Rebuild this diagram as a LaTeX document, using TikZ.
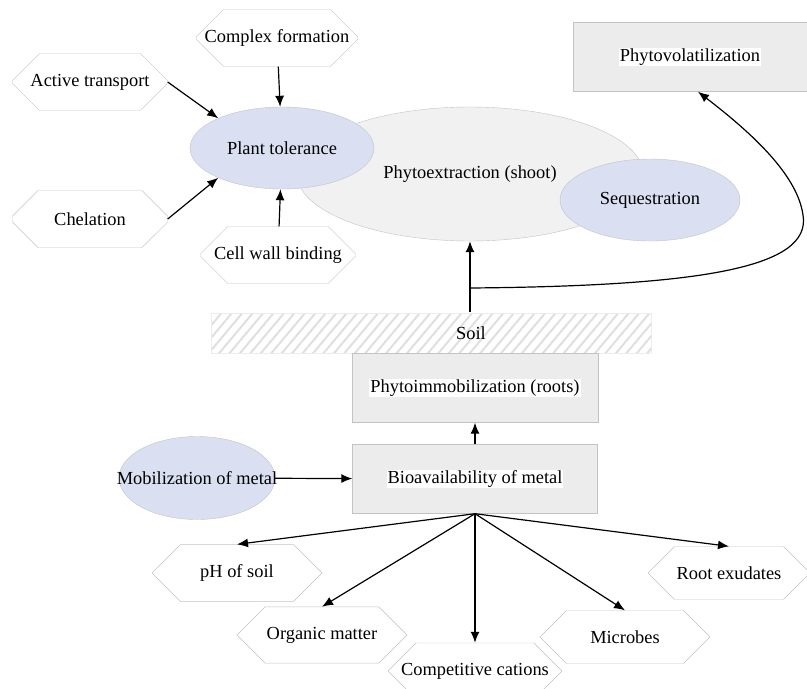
\documentclass[tikz,border=0pt]{standalone}
\usepackage{fontspec}
\setmainfont{Liberation Serif}
\newfontfamily\timesface{Liberation Serif}
\usetikzlibrary{shapes.geometric,shapes.misc,arrows.meta,patterns.meta}

\definecolor{tolblue}{RGB}{218,224,242}
\definecolor{shootgray}{RGB}{241,241,241}
\definecolor{boxgray}{RGB}{236,236,236}
\definecolor{edgegray}{RGB}{195,195,195}

\newcommand{\whitebg}[1]{{\setlength{\fboxsep}{1pt}\colorbox{white}{#1}}}
\newcommand{\nobox}[1]{\makebox[0pt]{#1}}

\tikzset{
  factor/.style={chamfered rectangle, chamfered rectangle xsep=13pt,
    chamfered rectangle ysep=19pt, draw=edgegray, fill=white,
    minimum width=155pt, minimum height=57pt, inner sep=0pt},
  cond/.style={chamfered rectangle, chamfered rectangle xsep=12pt,
    chamfered rectangle ysep=20pt, draw=edgegray, fill=white,
    minimum width=170pt, minimum height=40pt, inner sep=0pt},
  blob/.style={ellipse, draw=edgegray, fill=tolblue, inner sep=0pt},
  stage/.style={rectangle, draw=edgegray, fill=boxgray, inner sep=0pt},
}

\begin{document}
\begin{tikzpicture}[x=1pt,y=-1pt,>={Latex[length=11pt,width=9pt]},
  every node/.style={font=\timesface\fontsize{18.4}{22}\selectfont},
  flow/.style={->,line width=1.2pt}]
  \useasboundingbox (0,0) rectangle (807,689);

  % shoot
  \node[ellipse,draw=edgegray,fill=shootgray,minimum width=346pt,minimum height=134pt] (shoot) at (470,174) {\nobox{Phytoextraction (shoot)}};
  \node[blob,minimum width=184pt,minimum height=82pt] (tol) at (282,148) {\nobox{Plant tolerance}};
  \node[blob,minimum width=180pt,minimum height=82pt] (seq) at (650,200) {\nobox{Sequestration}};
  \node[stage,minimum width=234pt,minimum height=69pt] (volat) at (690,57) {\whitebg{Phytovolatilization}};

  \node[factor] (cplx) at (277,38) {Complex formation};
  \node[factor] (actv) at (90,82) {Active transport};
  \node[factor] (chel) at (90,219) {Chelation};
  \node[factor] (wall) at (278,255) {Cell wall binding};

  % soil and roots
  \node[draw=gray!15,pattern={Lines[angle=50,distance=8pt,line width=2pt]},pattern color=gray!25,
        minimum width=440pt,minimum height=40pt,label={[xshift=40pt]center:Soil}] (soil) at (431,333) {};
  \node[stage,minimum width=246pt,minimum height=69pt] (immob) at (475,388) {\whitebg{Phytoimmobilization (roots)}};
  \node[stage,minimum width=245pt,minimum height=69pt] (bio) at (475,479) {\whitebg{Bioavailability of metal}};
  \node[blob,minimum width=156pt,minimum height=83pt] (mob) at (197,478) {\nobox{Mobilization of metal}};

  \node[cond] (ph) at (237,573) {pH of soil};
  \node[cond] (org) at (322,635) {Organic matter};
  \node[cond,minimum width=174pt] (comp) at (475,671) {Competitive cations};
  \node[cond] (mic) at (625,637) {Microbes};
  \node[cond,minimum width=162pt] (root) at (729,573) {Root exudates};

  \coordinate (fork) at (470,288);

  \draw[flow] (cplx) -- (tol);
  \draw[flow] (wall) -- (tol);
  \draw[flow] (actv.east) -- (tol.155);
  \draw[flow] (chel.east) -- (tol.205);
  \draw[flow] (shoot.south |- soil.north) -- (shoot.south);
  \draw[flow] (fork) .. controls (700,286) and (812,268) .. (803,215)
                     .. controls (797,172) and (745,128) .. ([xshift=8pt]volat.south);

  \draw[flow] (mob) -- (bio);
  \draw[flow] (bio) -- (immob);
  \draw[flow] (bio.south) -- (ph.north);
  \draw[flow] (bio.south) -- (org.north);
  \draw[flow] (bio.south) -- (comp.north);
  \draw[flow] (bio.south) -- (mic.north);
  \draw[flow] (bio.south) -- (root.north);
\end{tikzpicture}
\end{document}
